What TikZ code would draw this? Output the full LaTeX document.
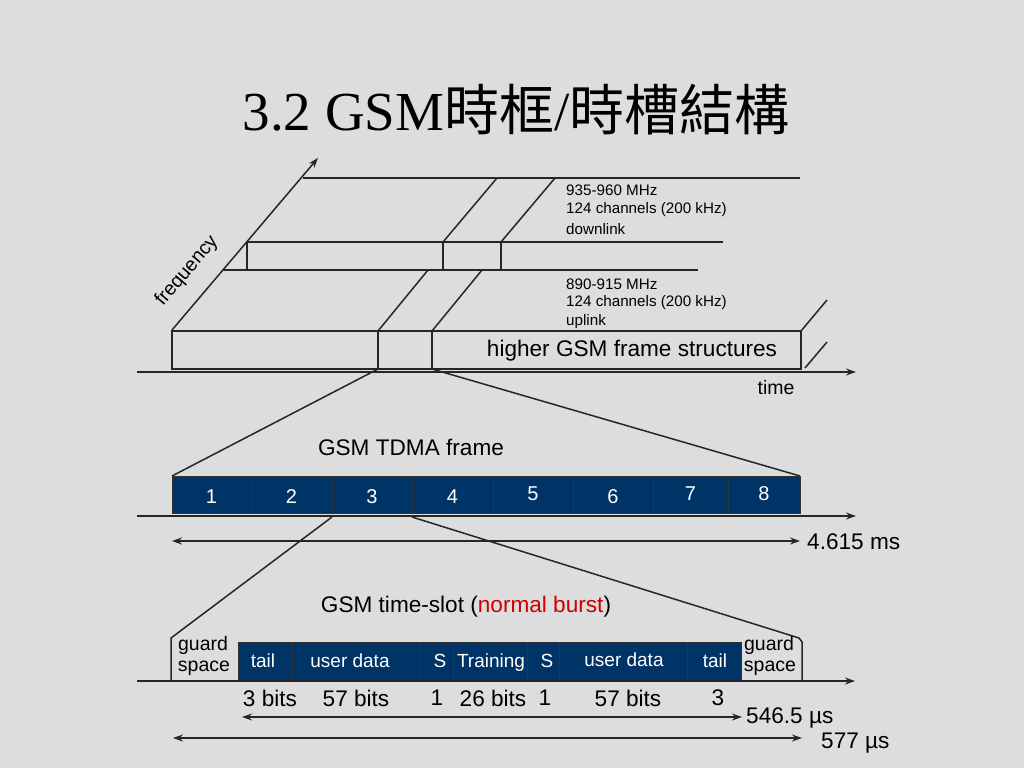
\documentclass[tikz,border=0pt]{standalone}
\usepackage{fontspec}
\setmainfont{Liberation Sans}
\newfontfamily\titleserif{Liberation Serif}
\newfontfamily\cjk{Noto Sans CJK TC}
\usetikzlibrary{arrows.meta}
\definecolor{bg}{RGB}{221,221,221}
\definecolor{navy}{RGB}{0,51,102}
\definecolor{burstred}{RGB}{204,0,0}
\begin{document}
\begin{tikzpicture}[x=1pt,y=-1pt,
  ln/.style={draw=black!85, line width=1.5pt},
  arr/.style={ln,-{Stealth[length=10pt,width=7pt]}},
  darr/.style={ln,{Stealth[length=10pt,width=7pt]}-{Stealth[length=10pt,width=7pt]}},
  slotbox/.style={draw=black!80, fill=navy, line width=0.8pt},
  wlab/.style={text=white, font=\fontsize{19}{19}\selectfont, inner sep=0pt, text height=13.5pt, text depth=0pt},
  dlab/.style={text=white, font=\fontsize{20}{20}\selectfont, inner sep=0pt},
  lab/.style={font=\fontsize{22.6}{22.6}\selectfont, inner sep=0pt},
  glab/.style={font=\fontsize{19.5}{19.5}\selectfont, inner sep=0pt},
  small/.style={font=\fontsize{15.2}{15.2}\selectfont, inner sep=0pt, anchor=west}]
\fill[bg] (0,0) rectangle (1024,768);
\useasboundingbox (0,0) rectangle (1024,768);

% title
\node[inner sep=0pt, font=\fontsize{55}{55}\selectfont] (title) at (516,110)
  {{\titleserif 3.2 GSM}{\cjk 時框}{\titleserif /}{\cjk 時槽結構}};

% ---------- top: frequency / time planes ----------
\coordinate (f0) at (172,330);
\coordinate (f1) at (318,158);
\draw[arr] (f0) -- (f1);
\node[glab, rotate=49.7] (freq) at (187,271) {frequency};

% downlink plane
\draw[ln] (303,178) -- (800,178);
\draw[ln] (247,242) -- (723,242);
\draw[ln] (223,270) -- (698,270);
\draw[ln] (247,242) -- (247,270);
\draw[ln] (443,242) -- (443,270);
\draw[ln] (501,242) -- (501,270);
\draw[ln] (443,242) -- (497,178);
\draw[ln] (501,242) -- (555,178);

\node[small] (d1) at (566,190) {935-960 MHz};
\node[small] (d2) at (566,210) {124 channels (200 kHz)};
\node[small] (d3) at (566,229) {downlink};

% uplink plane
\draw[ln] (172,331) rectangle (801,369);
\coordinate (us0) at (378,369);
\coordinate (us1) at (432,369);
\draw[ln] (378,331) -- (us0);
\draw[ln] (432,331) -- (us1);
\draw[ln] (378,331) -- (428,270);
\draw[ln] (432,331) -- (482,270);
\draw[ln] (801,331) -- (827,300);
\draw[ln] (805,368) -- (827,342);

\node[small] (u1) at (566,284) {890-915 MHz};
\node[small] (u2) at (566,303) {124 channels (200 kHz)};
\node[small] (u3) at (566,322) {uplink};
\node[lab] (higher) at (632,351) {higher GSM frame structures};

\draw[arr] (137,372) -- (856,372);
\node[glab] (time) at (776,388) {time};

% ---------- TDMA frame ----------
\node[lab] (tdma) at (411,447) {GSM TDMA frame};
\foreach \a/\b/\n/\yy in {172/251/1/497, 251/332/2/497, 332/412/3/497, 412/493/4/497,
                        493/573/5/494, 573/653/6/497, 653/728/7/494, 728/800/8/494}{
  \draw[slotbox] (\a,476) rectangle (\b,513);
  \node[dlab] (ts\n) at ({(\a+\b)/2},\yy) {\n};
}
\coordinate (tl) at (172,476);
\coordinate (tr) at (800,476);
\draw[ln] (us0) -- (tl);
\draw[ln] (us1) -- (tr);
\draw[arr] (137,516) -- (856,516);
\coordinate (fa) at (172,541);
\coordinate (fb) at (800,541);
\draw[darr] (fa) -- (fb);
\node[lab, anchor=west] (ms) at (807,542) {4.615 ms};

% ---------- time slot ----------
\node[lab] (tslot) at (466,607) {GSM time-slot ({\color{burstred}normal burst})};
\coordinate (s3l) at (332,517);
\coordinate (s3r) at (412,517);
\draw[ln] (s3l) -- (171,638) -- (171,680);
\draw[ln] (s3r) -- (799,638) -- (802,642) -- (802,680);

\foreach \a/\b in {238/292, 292/419, 419/453, 453/527, 527/559, 559/687, 687/741}{
  \draw[slotbox] (\a,642) rectangle (\b,680);
}
\node[wlab] (b1) at (263,661) {tail};
\node[wlab] (b2) at (350,661) {user data};
\node[wlab] (b3) at (440,661) {S};
\node[wlab] (b4) at (491,661) {Training};
\node[wlab] (b5) at (547,661) {S};
\node[wlab] (b6) at (624,660) {user data};
\node[wlab] (b7) at (715,661) {tail};

\node[glab] (gl1) at (203,645) {guard};
\node[glab] (gl2) at (204,668) {space};
\node[glab] (gr1) at (769,645) {guard};
\node[glab] (gr2) at (770,668) {space};

\draw[arr] (137,681) -- (855,681);

\node[lab] (n1) at (270,698) {3 bits};
\node[lab] (n2) at (356,698) {57 bits};
\node[lab] (n3) at (437,698) {1};
\node[lab] (n4) at (493,698) {26 bits};
\node[lab] (n5) at (545,698) {1};
\node[lab] (n6) at (628,698) {57 bits};
\node[lab] (n7) at (718,698) {3};

\coordinate (ba) at (242,717);
\coordinate (bb) at (742,717);
\draw[darr] (ba) -- (bb);
\node[lab, anchor=west] (us546) at (746,718) {546.5 µs};
\coordinate (ca) at (173,738);
\coordinate (cb) at (802,738);
\draw[darr] (ca) -- (cb);
\node[lab, anchor=west] (us577) at (821,743) {577 µs};
\end{tikzpicture}
\end{document}
